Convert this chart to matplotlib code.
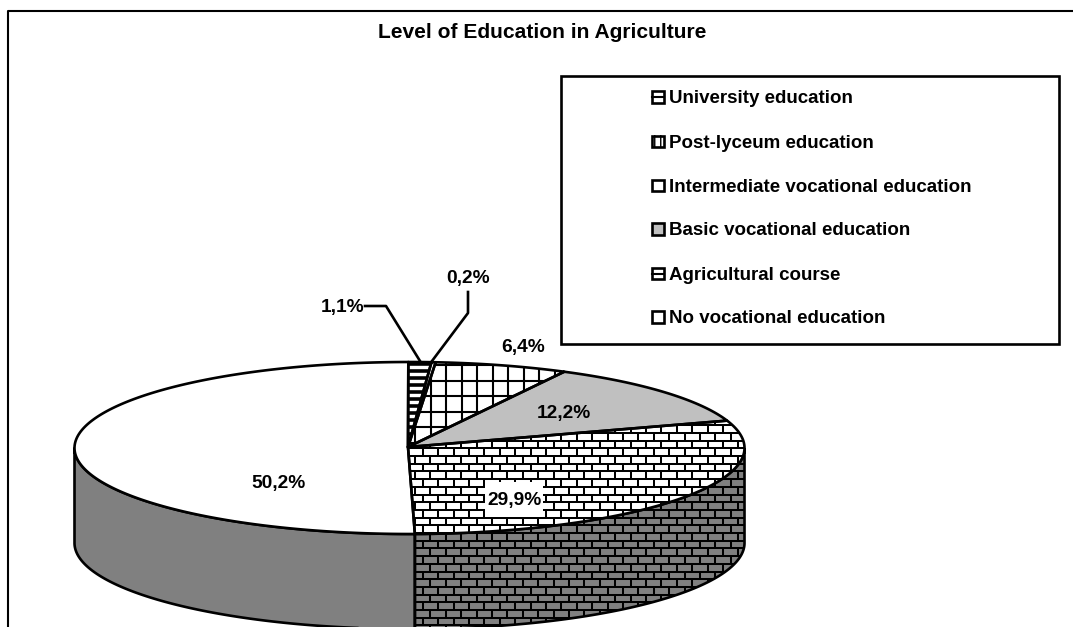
import numpy as np
import matplotlib
matplotlib.use("Agg")
import matplotlib.pyplot as plt
from matplotlib.patches import Polygon, Rectangle
from matplotlib.collections import LineCollection

title = "Level of Education in Agriculture"
categories = ["University education", "Post-lyceum education",
              "Intermediate vocational education", "Basic vocational education",
              "Agricultural course", "No vocational education"]
values = [1.1, 0.2, 6.4, 12.2, 29.9, 50.2]
labels = ["1,1%", "0,2%", "6,4%", "12,2%", "29,9%", "50,2%"]
hatches = ["hlines", None, "grid", None, "brick", None]
faces = ["white", "white", "white", "#C0C0C0", "white", "white"]
label_pos = [(343, 307.5), (468, 278.5), (523, 347.5), (564, 413.5), (514, 500), (278, 483.5)]

W, H = 1073, 627
plt.rcParams["font.family"] = ["Liberation Sans", "DejaVu Sans"]
fig = plt.figure(figsize=(W / 100, H / 100), dpi=100)
ax = fig.add_axes([0, 0, 1, 1])
ax.set_xlim(0, W)
ax.set_ylim(H, 0)
ax.axis("off")

CX, CY, A, B, DEPTH = 409.5, 448, 335, 86, 95
HUB = (408, 447)
LW = 1.9
START = -0.2


def rim(d0, d1, n=240):
    t = np.radians(np.linspace(d0, d1, n))
    return np.c_[CX + A * np.sin(t), CY - B * np.cos(t)]


def hatch_lines(kind, patch, color="black", lw=1.45):
    segs = []
    if kind == "brick":
        h, w = 7.7, 15.4
        for k in range(-13, 26):
            y = 448.3 + k * h
            segs.append([(0, y), (W, y)])
            off = 0 if k % 2 == 0 else w / 2
            for x in np.arange(422.7 + off - 28 * w, W, w):
                segs.append([(x, y), (x, y + h)])
    elif kind == "grid":
        s = 15.5
        for x in np.arange(12, W, s):
            segs.append([(x, 300), (x, 500)])
        for y in np.arange(349.5, 500, s):
            segs.append([(0, y), (W, y)])
        lw = 1.5
    elif kind == "hlines":
        for y in np.arange(364, 460, 7.0):
            segs.append([(0, y), (W, y)])
        lw = 2.6
    lc = LineCollection(segs, colors=color, linewidths=lw, zorder=patch.get_zorder() + 0.1)
    ax.add_collection(lc)
    lc.set_clip_path(patch)


frac = np.cumsum([0] + values) / sum(values) * 360 + START

# side wall
for i, (d0, d1) in enumerate(zip(frac[:-1], frac[1:])):
    lo, hi = max(d0, 90), min(d1, 270)
    if lo >= hi:
        continue
    top = rim(lo, hi)
    bot = top[::-1] + [0, DEPTH]
    wall = Polygon(np.vstack([top, bot]), closed=True, fc="#808080", ec="none", zorder=1)
    ax.add_patch(wall)
    if hatches[i]:
        hatch_lines(hatches[i], wall)
    ax.add_patch(Polygon(np.vstack([top, bot]), closed=True, fc="none", ec="black", lw=LW, zorder=1.5,
                         joinstyle="round"))

# top face
for i, (d0, d1) in enumerate(zip(frac[:-1], frac[1:])):
    pts = np.vstack([[HUB], rim(d0, d1)])
    p = Polygon(pts, closed=True, fc=faces[i], ec="none", zorder=2)
    ax.add_patch(p)
    if hatches[i]:
        hatch_lines(hatches[i], p)
    ax.add_patch(Polygon(pts, closed=True, fc="none", ec="black", lw=LW, zorder=2.5,
                         joinstyle="round"))

# data labels
for i, (lab, (x, y)) in enumerate(zip(labels, label_pos)):
    if hatches[i] == "brick":
        ax.add_patch(Rectangle((x - 29, y - 18), 58, 35, fc="white", ec="none", zorder=4.9))
    ax.text(x, y, lab, ha="center", va="center", fontsize=13.8, fontweight="bold", zorder=5)

# leader lines
ax.plot([365, 386, 420], [306, 306, 361], color="black", lw=LW, zorder=4)
ax.plot([468, 468, 432], [292, 313, 361], color="black", lw=LW, zorder=4)

# chart frame: only left and top edges show in the picture
ax.plot([8, 8, W + 5], [H + 5, 10.5, 10.5], color="black", lw=1.5, zorder=6)

# title
ax.text(542.5, 32.5, title, ha="center", va="center", fontsize=15.1, fontweight="bold", zorder=6)

# legend
ax.add_patch(Rectangle((560.5, 75.5), 498, 268.5, fc="white", ec="black", lw=1.9, zorder=6))
row_y = [97, 141.5, 185.5, 229, 273.5, 317]
for i, (cat, y) in enumerate(zip(categories, row_y)):
    ax.add_patch(Rectangle((652, y - 5.75), 11.5, 11.5, fc=faces[i], ec="black", lw=1.9, zorder=7))
    if hatches[i] in ("hlines", "brick"):
        ax.plot([652, 663.5], [y, y], color="black", lw=1.5, zorder=7.5)
    if i == 1:
        for dx in (-3.0, 3.0):
            ax.plot([657.75 + dx] * 2, [y - 5.75, y + 5.75], color="black", lw=1.0, zorder=7.5,
                    snap=False)
    ax.text(669, y + 1.5, cat, ha="left", va="center", fontsize=13.5, fontweight="bold", zorder=7)

fig.savefig("out.png", dpi=100, facecolor="white")
